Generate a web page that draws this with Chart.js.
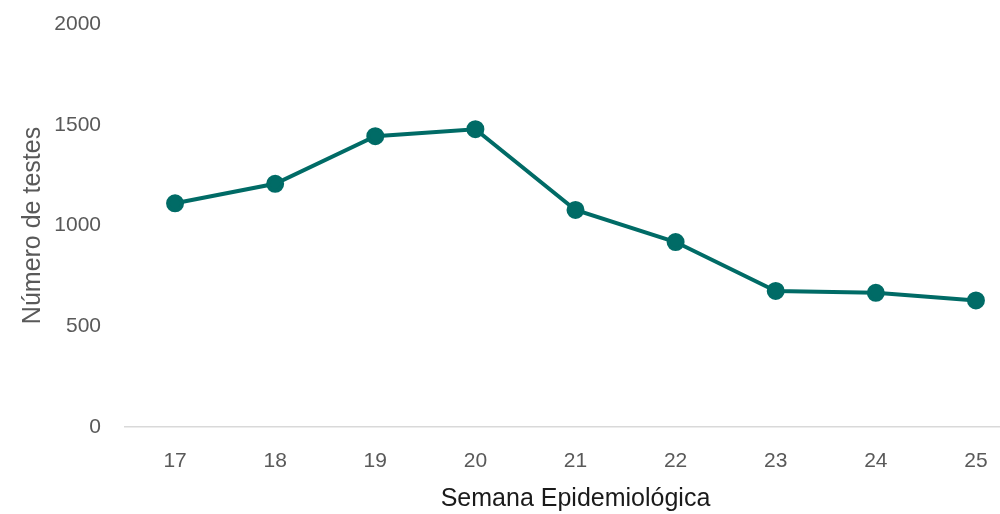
<!DOCTYPE html>
<html>
<head>
<meta charset="utf-8">
<script src="https://cdn.jsdelivr.net/npm/chart.js@4"></script>
<style>
  html, body { margin: 0; padding: 0; background: #fff; overflow: hidden; }
  #wrap { position: relative; width: 1037px; height: 514px; }
</style>
</head>
<body>
<div id="wrap"><canvas id="chart"></canvas></div>
<script>
const weeks = ["17", "18", "19", "20", "21", "22", "23", "24", "25"];
const tests = [1110, 1207, 1443, 1478, 1077, 918, 675, 666, 628];
const yTicks = [0, 500, 1000, 1500, 2000];

const teal = "#006b66";
const fontFamily = "'Liberation Sans', 'Open Sans', sans-serif";

new Chart(document.getElementById("chart"), {
  type: "line",
  data: {
    labels: weeks,
    datasets: [{
      data: tests,
      borderColor: teal,
      backgroundColor: teal,
      borderWidth: 4,
      pointRadius: 7,
      pointHoverRadius: 7,
      pointBackgroundColor: teal,
      pointBorderColor: teal,
      tension: 0,
    }],
  },
  options: {
    responsive: true,
    maintainAspectRatio: false,
    animation: false,
    layout: { padding: { top: 24, right: 0, left: 0, bottom: 0 } },
    plugins: { legend: { display: false }, tooltip: { enabled: false } },
    scales: {
      x: {
        offset: true,
        grid: { display: false, drawTicks: false },
        border: { display: true, color: "#d9d9d9", width: 1.5 },
        ticks: { color: "#595959", font: { family: fontFamily, size: 21 }, padding: 22 },
        title: {
          display: true,
          text: "Semana Epidemiológica",
          color: "#1a1a1a",
          font: { family: fontFamily, size: 25 },
          padding: { top: 7, bottom: 0 },
        },
        afterFit: (s) => { s.height = 87; },
      },
      y: {
        min: 0,
        max: 2000,
        afterBuildTicks: (s) => { s.ticks = yTicks.map((v) => ({ value: v })); },
        grid: { display: false, drawTicks: false },
        border: { display: false },
        ticks: {
          color: "#595959",
          font: { family: fontFamily, size: 21 },
          padding: 24,
          callback: (v) => String(v),
        },
        title: {
          display: true,
          text: "Número de testes",
          color: "#595959",
          font: { family: fontFamily, size: 25 },
          padding: { top: 18, bottom: 0 },
        },
        afterFit: (s) => { s.width = 125; s.paddingTop = 0; s.paddingBottom = 0; },
      },
    },
  },
});
</script>
</body>
</html>
